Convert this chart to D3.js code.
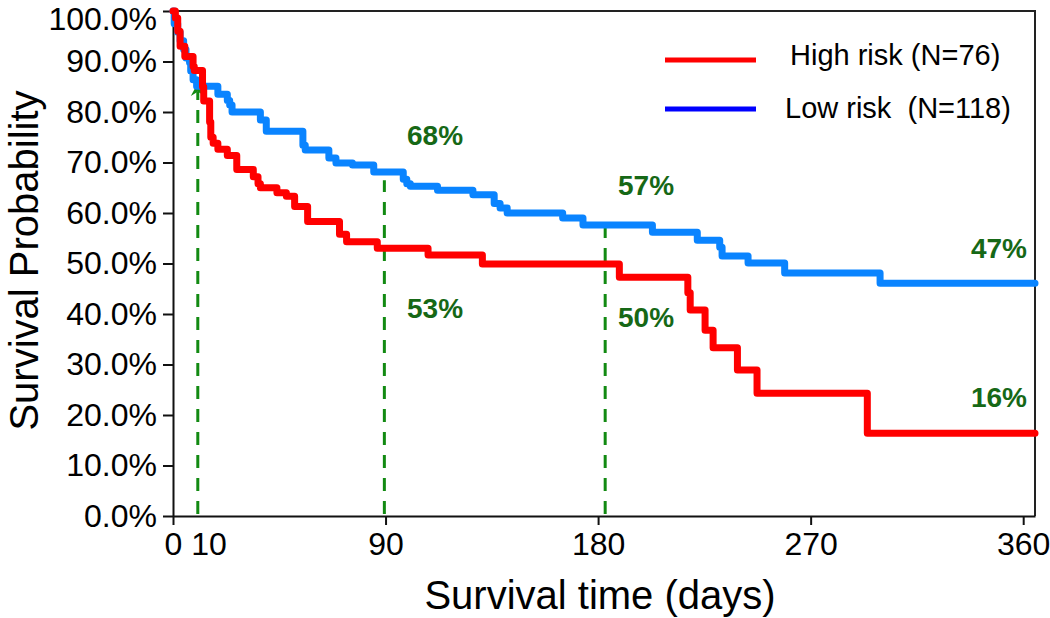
<!DOCTYPE html>
<html>
<head>
<meta charset="utf-8">
<script src="https://cdn.jsdelivr.net/npm/d3@7/dist/d3.min.js"></script>
<style>
  html, body { margin: 0; padding: 0; background: #fff; }
  svg { display: block; }
  text { font-family: "Liberation Sans", Arial, sans-serif; }
</style>
</head>
<body>
<svg id="chart" width="1050" height="618"></svg>
<script>
// ---- data ----
const seriesNames = ["High risk (N=76)", "Low risk  (N=118)"];
const highDays = [0,1,2,3,5,8.5,9,12.5,13,15.5,16,17,19,23,27,34,36,37,44,48,51.5,57,70.5,73.5,86.5,108,131,189,218,219,225.3,228.7,239,247.3,294,365];
const highSurv = [100,98.6,96,93,91,89,88.2,85,82.2,78,75,73.8,72.6,71.4,68.6,67.2,65.8,65,64,63.3,61.3,58.3,55.8,54.3,53,51.7,49.9,47.3,44.2,40.8,36.8,33.3,28.9,24.3,16.4,16.4];
const lowDays = [0,0.5,2,3,4.5,5.5,7,7.5,8.5,10,19,23,24,25,37,39.5,55,56,66,69,76,85,97.5,99,100.5,112,127,136,138.5,141.5,165,173.6,203,222,231.5,232.5,243.5,259,299.4,365];
const lowSurv = [100,97.5,95.8,94.1,92.4,90.7,89.8,88.1,86.4,85.1,83.5,82.3,81.4,80,78.4,76.2,73.4,72.5,70.9,69.9,69.5,68.1,66.7,65.8,65.3,64.5,63.6,61.9,61,60,59,57.6,56.2,54.6,53.2,51.5,50.1,48.1,46.1,46.1];
const yTicks = [0,0.1,0.2,0.3,0.4,0.5,0.6,0.7,0.8,0.9,1.0];
const xTicks = [0,90,180,270,360];
const xTickLabels = ["0 10","90","180","270","360"];
const markerDays = [10.5, 89.5, 183];
const markerTops = [84, 66.5, 58.2];
const annLabels = ["68%","53%","57%","50%","47%","16%"];
const xTitle = "Survival time (days)";
const yTitle = "Survival Probability";

// ---- layout ----
const svg = d3.select("#chart");
const L = 173, R = 1035, T = 11, B = 516;
const x = d3.scaleLinear().domain([0,365]).range([L,R]);
const y = d3.scaleLinear().domain([0,1]).range([B,T]);
const green = "#128a12";
const annGreen = "#166816";

// frame (top & right)
svg.append("path")
  .attr("d", `M${L},${T}H${R}V${B}`)
  .attr("fill","none").attr("stroke","#222").attr("stroke-width",2);

// y axis
const yAxis = svg.append("g").attr("transform",`translate(${L},0)`)
  .call(d3.axisLeft(y).tickValues(yTicks).tickFormat(d3.format(".1%")).tickSize(10).tickPadding(6).tickSizeOuter(0));
// x axis
const xAxis = svg.append("g").attr("transform",`translate(0,${B})`)
  .call(d3.axisBottom(x).tickValues(xTicks).tickFormat((d,i)=>xTickLabels[i]).tickSize(9).tickPadding(6).tickSizeOuter(0));
[yAxis, xAxis].forEach(g => {
  g.select(".domain").attr("stroke","#111").attr("stroke-width",2);
  g.selectAll(".tick line").attr("stroke","#111").attr("stroke-width",2);
  g.selectAll(".tick text").attr("fill","#000").style("font-size","32px")
    .style("font-family","'Liberation Sans', Arial, sans-serif");
});
// keep the top label inside the picture
yAxis.selectAll(".tick text").filter(d => d === 1).attr("dy","0.58em");
xAxis.selectAll(".tick text").attr("dy","0.74em").style("white-space","pre");
xAxis.selectAll(".tick text").filter((d,i)=>i===0).attr("text-anchor","start").attr("dx",-9);

// marker dashed lines
markerDays.forEach((d,i) => {
  svg.append("line")
    .attr("x1",x(d)).attr("x2",x(d))
    .attr("y1",B-2).attr("y2",y(markerTops[i]/100))
    .attr("stroke",green).attr("stroke-width",3).attr("stroke-dasharray","13,10");
});
// arrow head on first marker
{
  const ax = x(markerDays[0]), ay = y(markerTops[0]/100) - 7;
  svg.append("path")
    .attr("d",`M${ax},${ay}L${ax+5},${ay+9}L${ax},${ay+6}L${ax-5},${ay+9}Z`)
    .attr("fill",green).attr("stroke",green).attr("stroke-width",1.5);
}

// curves
const line = d3.line().x(d=>x(d[0])).y(d=>y(d[1]/100)).curve(d3.curveStepAfter);
const lowData = lowDays.map((d,i)=>[d,lowSurv[i]]);
const highData = highDays.map((d,i)=>[d,highSurv[i]]);
svg.append("path").datum(lowData).attr("d",line)
  .attr("fill","none").attr("stroke","#0a84ff").attr("stroke-width",7)
  .attr("stroke-linejoin","round").attr("stroke-linecap","round");
svg.append("path").datum(highData).attr("d",line)
  .attr("fill","none").attr("stroke","#ff0000").attr("stroke-width",7)
  .attr("stroke-linejoin","round").attr("stroke-linecap","round");

// annotation labels
const annPos = [[407,145,"start"],[407,318,"start"],[618,195,"start"],[618,327,"start"],[1027,258,"end"],[1027,407,"end"]];
annLabels.forEach((t,i) => {
  svg.append("text").attr("x",annPos[i][0]).attr("y",annPos[i][1])
    .attr("text-anchor",annPos[i][2])
    .style("font-size","28px").style("font-weight","bold").attr("fill",annGreen).text(t);
});

// legend
const legColors = ["#ff0000","#0000ff"];
const legY = [60,109];
const legTextX = [790,785];
const legTextY = [65,118];
seriesNames.forEach((n,i) => {
  svg.append("line").attr("x1",665).attr("x2",756).attr("y1",legY[i]).attr("y2",legY[i])
    .attr("stroke",legColors[i]).attr("stroke-width",5);
  svg.append("text").attr("x",legTextX[i]).attr("y",legTextY[i])
    .style("font-size","29px").style("white-space","pre").attr("fill","#000").text(n);
});

// axis titles
svg.append("text").attr("x",(L+R)/2 - 4).attr("y",609).attr("text-anchor","middle")
  .style("font-size","40px").attr("fill","#000").text(xTitle);
svg.append("text").attr("transform",`translate(38,${(T+B)/2 - 3}) rotate(-90)`).attr("text-anchor","middle")
  .style("font-size","40px").attr("fill","#000").text(yTitle);
</script>
</body>
</html>
